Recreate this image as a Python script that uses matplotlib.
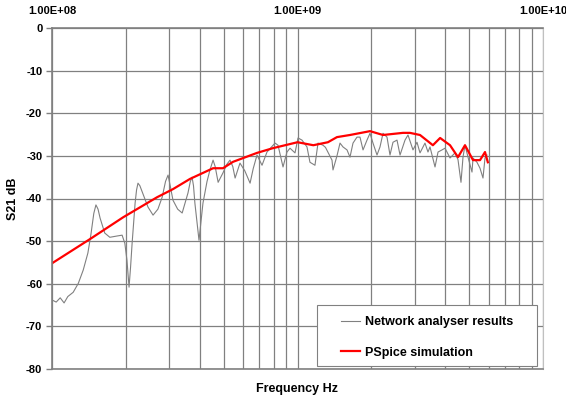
import numpy as np
import matplotlib
matplotlib.use("Agg")
import matplotlib.pyplot as plt
from matplotlib.patches import Rectangle
from matplotlib.ticker import FixedLocator, FuncFormatter, LogLocator, NullFormatter

plt.rcParams['font.family'] = ['Liberation Sans', 'DejaVu Sans']
plt.rcParams['axes.unicode_minus'] = False

# Network analyser measurement (frequency in MHz, S21 in dB)
meas_mhz = [100, 104, 108, 112, 116, 122, 128, 134, 140, 144, 148, 151, 154, 157,
            164, 172, 184, 193, 198, 202, 206, 209, 212, 218, 221, 224, 228, 235,
            246, 258, 270, 281, 290, 297, 303, 311, 325, 339, 358, 366, 372, 377,
            382, 397, 412, 428, 440, 453, 462, 475, 497, 515, 531, 545, 557, 583,
            610, 641, 660, 684, 717, 751, 810, 833, 873, 906, 932, 977, 1005, 1043,
            1093, 1124, 1178, 1212, 1270, 1300, 1382, 1395, 1448, 1490, 1532, 1591,
            1636, 1683, 1747, 1797, 1849, 1919, 1974, 2030, 2108, 2168, 2230, 2315,
            2381, 2449, 2543, 2616, 2741, 2819, 2954, 3067, 3155, 3306, 3400, 3465,
            3632, 3736, 3878, 3989, 4181, 4381, 4506, 4634, 4722, 4811, 4949, 5138,
            5187, 5384, 5539, 5696, 5804, 5914]
meas_db = [-63.8, -64.3, -63.3, -64.5, -63.0, -62.0, -59.9, -56.8, -52.8, -48.5,
           -43.5, -41.5, -42.5, -44.6, -48.1, -49.1, -48.8, -48.6, -50.5, -54.5,
           -60.8, -56.0, -50.5, -41.1, -38.0, -36.4, -37.0, -39.0, -42.0, -43.9,
           -42.5, -39.7, -36.0, -34.5, -37.0, -40.4, -42.5, -43.4, -38.7, -36.0,
           -35.0, -37.0, -41.1, -49.8, -41.1, -36.0, -33.3, -31.0, -32.5, -36.2,
           -34.0, -32.0, -31.0, -32.5, -35.2, -31.7, -33.5, -36.4, -33.0, -29.8,
           -32.2, -29.1, -27.0, -27.5, -32.6, -29.1, -28.2, -29.3, -25.8, -26.3,
           -27.9, -31.5, -32.2, -27.0, -27.5, -28.0, -31.0, -33.3, -30.0, -27.0,
           -27.9, -28.6, -30.3, -27.0, -25.6, -25.6, -28.6, -26.3, -24.7, -27.0,
           -29.8, -27.9, -24.7, -25.6, -29.8, -26.8, -26.3, -29.8, -26.3, -25.1,
           -28.6, -26.8, -29.3, -27.0, -29.1, -27.9, -32.6, -29.1, -28.6, -28.2,
           -30.5, -29.3, -30.9, -36.2, -30.3, -27.5, -30.3, -33.8, -30.5, -31.5,
           -32.9, -35.2, -30.5, -29.8]

# PSpice simulation
sim_mhz = [100, 143, 195, 268, 311, 365, 453, 497, 546, 684, 793, 1000, 1160,
           1330, 1448, 1636, 1974, 2230, 2690, 2870, 3155, 3560, 3810, 4181,
           4506, 4811, 5187, 5539, 5804, 5960]
sim_db = [-55.2, -49.5, -44.4, -39.7, -37.8, -35.4, -32.9, -32.9, -31.4, -29.3,
          -28.2, -26.8, -27.5, -26.8, -25.6, -25.1, -24.2, -25.1, -24.6, -24.6,
          -25.1, -27.5, -25.8, -27.5, -30.3, -27.5, -31.0, -31.0, -29.1, -31.5]

y_ticks = [0, -10, -20, -30, -40, -50, -60, -70, -80]
x_major = [1e8, 1e9, 1e10]

W, H = 566, 403
fig = plt.figure(figsize=(W / 100, H / 100), dpi=100)
ax = fig.add_axes([52 / W, 1 - 369 / H, (543 - 52) / W, (369 - 28) / H])

ax.plot(np.array(meas_mhz) * 1e6, meas_db, color='#808080', lw=0.8,
        label='Network analyser results')
ax.plot(np.array(sim_mhz) * 1e6, sim_db, color='#ff0000', lw=1.6,
        label='PSpice simulation')

ax.set_xscale('log')
ax.set_xlim(1e8, 1e10)
ax.set_ylim(-80, 0)

ax.xaxis.set_major_locator(FixedLocator(x_major))
ax.xaxis.set_minor_locator(LogLocator(base=10, subs=np.arange(2, 10)))
ax.xaxis.set_minor_formatter(NullFormatter())
ax.xaxis.set_major_formatter(FuncFormatter(lambda v, p: '1.00E+%02d' % round(np.log10(v))))
ax.xaxis.tick_top()
ax.tick_params(axis='x', which='both', length=0, pad=9, labelsize=8)
ax.set_yticks(y_ticks)
ax.tick_params(axis='y', length=4, width=1, color='#808080', labelsize=8, pad=3)
for lab in ax.get_xticklabels() + ax.get_yticklabels():
    lab.set_fontweight('bold')

ax.grid(True, which='both', axis='x', color='#808080', lw=0.9)
ax.grid(True, which='major', axis='y', color='#808080', lw=0.9)
ax.set_axisbelow(True)

for side in ['left', 'top', 'bottom']:
    ax.spines[side].set_color('#808080')
    ax.spines[side].set_linewidth(1.2)
ax.spines['right'].set_color('#c0c0c0')

ax.set_ylabel('S21 dB', fontsize=9, fontweight='bold', labelpad=5)
ax.set_xlabel('Frequency Hz', fontsize=9, fontweight='bold', labelpad=10)

# legend box (drawn separately so its size matches the original)
box = Rectangle((317 / W, 1 - 366 / H), (537 - 317) / W, (366 - 305) / H,
                transform=fig.transFigure, facecolor='white', edgecolor='#808080',
                lw=0.8, zorder=3)
fig.patches.append(box)
leg = fig.legend(loc='upper left', bbox_to_anchor=(336 / W, 1 - 311 / H),
                 fontsize=9, frameon=False, handlelength=1.5, handletextpad=0.4,
                 labelspacing=1.5, borderaxespad=0)
leg.set_zorder(5)
for t in leg.get_texts():
    t.set_fontweight('bold')

fig.savefig('out.png', dpi=100)
